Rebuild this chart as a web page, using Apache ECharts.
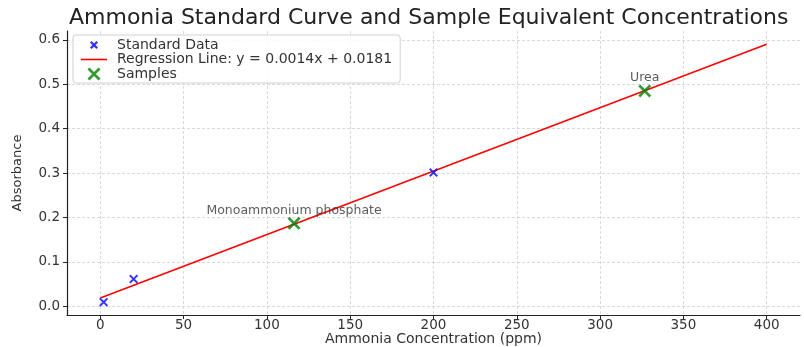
<!DOCTYPE html>
<html>
<head>
<meta charset="utf-8">
<script src="https://cdn.jsdelivr.net/npm/echarts@6/dist/echarts.min.js"></script>
<style>
  html, body { margin: 0; padding: 0; background: #fff; }
  #chart { width: 804px; height: 347px; }
</style>
</head>
<body>
<div id="chart"></div>
<script>
// standard calibration points [ppm, absorbance]
const standardData = [[2, 0.009], [20, 0.061], [200, 0.301]];
// regression line endpoints
const regressionLine = [[0, 0.0181], [400, 0.59]];
// samples [ppm, absorbance, name]
const sampleNames = ["Monoammonium phosphate", "Urea"];
const sampleX = [116.3, 326.8];
const sampleY = [0.1865, 0.485];
const xTicks = [0, 50, 100, 150, 200, 250, 300, 350, 400];
const yTicks = [0, 0.1, 0.2, 0.3, 0.4, 0.5, 0.6];

const CROSS = "path://M0,1.5L1.5,0L5,3.5L8.5,0L10,1.5L6.5,5L10,8.5L8.5,10L5,6.5L1.5,10L0,8.5L3.5,5Z";
// same cross but padded so the legend icon comes out smaller
const CROSS_SMALL = "path://M-3,-3L-2.99,-3L-3,-2.99ZM13,13L12.99,13L13,12.99ZM0,2L2,0L5,3L8,0L10,2L7,5L10,8L8,10L5,7L2,10L0,8L3,5Z";
const LINE_ICON = "path://M0,0H26V1.6H0Z";

const font = "DejaVu Sans";
const chart = echarts.init(document.getElementById("chart"));

const gridLine = { show: true, lineStyle: { color: "#cfcfcf", type: [3, 2], width: 0.8 } };

chart.setOption({
  backgroundColor: "#fff",
  animation: false,
  textStyle: { fontFamily: font },
  title: {
    text: "Ammonia Standard Curve and Sample Equivalent Concentrations",
    left: 64,
    top: 2,
    textStyle: { fontFamily: font, fontSize: 22, fontWeight: "normal", color: "#222" }
  },
  legend: {
    orient: "vertical",
    left: 73,
    top: 35,
    padding: [3, 8, 2, 8],
    itemGap: 0.5,
    itemWidth: 26,
    itemHeight: 13,
    borderColor: "#d0d0d0",
    borderWidth: 1,
    borderRadius: 3,
    backgroundColor: "rgba(255,255,255,0.85)",
    textStyle: { fontFamily: font, fontSize: 14, color: "#333", padding: [0, 0, 0, 5] },
    data: [
      { name: "Standard Data", icon: CROSS_SMALL },
      { name: "Regression Line: y = 0.0014x + 0.0181", icon: LINE_ICON },
      { name: "Samples", icon: CROSS }
    ]
  },
  grid: { left: 67, right: 4, top: 31, bottom: 32, outerBoundsMode: "none" },
  xAxis: {
    type: "value",
    min: -20,
    max: 420,
    name: "Ammonia Concentration (ppm)",
    nameLocation: "middle",
    nameGap: 17,
    nameMoveOverlap: false,
    nameTextStyle: { fontFamily: font, fontSize: 14, color: "#333" },
    axisLine: { show: true, onZero: false, lineStyle: { color: "#222", width: 1.2 } },
    axisTick: { show: true, length: 4, lineStyle: { color: "#222" }, customValues: xTicks },
    axisLabel: { fontFamily: font, fontSize: 13.5, color: "#333", margin: 3, customValues: xTicks },
    splitLine: gridLine
  },
  yAxis: {
    type: "value",
    min: -0.02,
    max: 0.62,
    name: "Absorbance",
    nameLocation: "middle",
    nameGap: 43,
    nameMoveOverlap: false,
    nameTextStyle: { fontFamily: font, fontSize: 13, color: "#333" },
    axisLine: { show: true, onZero: false, lineStyle: { color: "#222", width: 1.2 } },
    axisTick: { show: true, length: 4, lineStyle: { color: "#222" }, customValues: yTicks },
    axisLabel: {
      fontFamily: font, fontSize: 13.5, color: "#333", margin: 7,
      customValues: yTicks, formatter: (v) => v.toFixed(1)
    },
    splitLine: gridLine
  },
  series: [
    {
      name: "Standard Data",
      type: "scatter",
      data: standardData,
      symbol: CROSS,
      symbolSize: 9,
      itemStyle: { color: "#0000ff" },
      z: 4
    },
    {
      name: "Regression Line: y = 0.0014x + 0.0181",
      type: "line",
      data: regressionLine,
      symbol: "none",
      lineStyle: { color: "#ff0000", width: 1.6 },
      itemStyle: { color: "#ff0000" },
      z: 3
    },
    {
      name: "Samples",
      type: "scatter",
      data: sampleX.map((x, i) => ({ value: [x, sampleY[i]], name: sampleNames[i] })),
      symbol: CROSS,
      symbolSize: 13,
      itemStyle: { color: "#008000" },
      label: {
        show: true,
        position: "top",
        distance: 0,
        formatter: (p) => p.name,
        fontFamily: font,
        fontSize: 12.5,
        color: "#333"
      },
      z: 5
    }
  ]
});
</script>
</body>
</html>
